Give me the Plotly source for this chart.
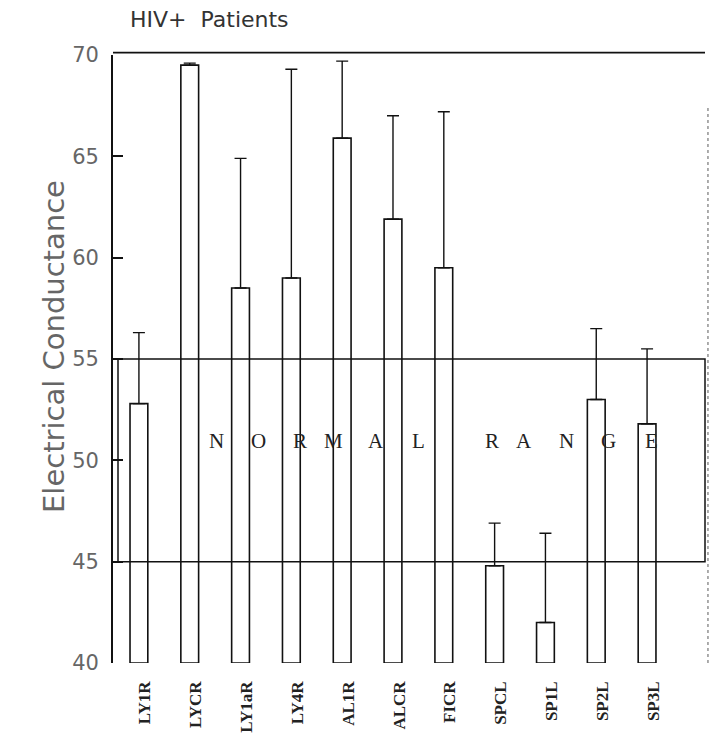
import plotly.graph_objects as go

# ---- data ----
categories = ["LY1R", "LYCR", "LY1aR", "LY4R", "AL1R", "ALCR", "FICR",
              "SPCL", "SP1L", "SP2L", "SP3L"]
means = [52.8, 69.5, 58.5, 59.0, 65.9, 61.9, 59.5, 44.8, 42.0, 53.0, 51.8]
upper = [56.3, 69.6, 64.9, 69.3, 69.7, 67.0, 67.2, 46.9, 46.4, 56.5, 55.5]
normal_low = 45
normal_high = 55
y_ticks = [40, 45, 50, 55, 60, 65, 70]
range_letters = ["N", "O", "R", "M", "A", "L", "R", "A", "N", "G", "E"]

W, H = 717, 744
PAGE_OFF = 0  # body margin removed via post_script
# plot edges in page pixels
PL, PR, PT, PB = 113, 705, 55, 663
L = PL - PAGE_OFF
T = PT - PAGE_OFF
R = W - (PR - PAGE_OFF)
B = H - (PB - PAGE_OFF)
pw = PR - PL
ph = PB - PT

def px_to_paper_x(px):
    return (px - PL) / pw

def px_to_paper_y(py):
    return (PB - py) / ph

x = list(range(len(categories)))
err_plus = [u - m for m, u in zip(means, upper)]

fig = go.Figure()
fig.add_trace(go.Bar(
    x=x, y=[m - 40 for m in means], base=40,
    width=0.35,
    marker=dict(color="rgba(0,0,0,0)", line=dict(color="#111", width=1.6)),
    error_y=dict(type="data", symmetric=False, array=err_plus,
                 arrayminus=[0] * len(means), color="#111",
                 thickness=1.4, width=6),
    showlegend=False,
))

# normal range box
fig.add_shape(type="rect", xref="paper", yref="y",
              x0=px_to_paper_x(118), x1=1.0, y0=normal_low, y1=normal_high,
              line=dict(color="#111", width=1.5), fillcolor="rgba(0,0,0,0)",
              layer="above")
# top frame line
fig.add_shape(type="line", xref="paper", yref="paper", x0=0, x1=1.0,
              y0=1.004, y1=1.004, line=dict(color="#111", width=1.8))
# faint dotted right line
fig.add_shape(type="line", xref="paper", yref="y", x0=1.005, x1=1.005,
              y0=40, y1=67.5, line=dict(color="#777", width=1.2, dash="dot"))

# NORMAL RANGE lettering
first_group = 6
for i, ch in enumerate(range_letters):
    if i < first_group:
        px = 207 + 42.2 * i
    else:
        px = 492 + 42.0 * (i - first_group)
    fig.add_annotation(x=px_to_paper_x(px), xref="paper", y=50.95, yref="y",
                       text=ch, showarrow=False,
                       font=dict(family="Liberation Serif", size=21, color="#222"))

# title
fig.add_annotation(x=px_to_paper_x(128), xref="paper", y=px_to_paper_y(20),
                   yref="paper", xanchor="left", yanchor="middle",
                   text="HIV+  Patients", showarrow=False,
                   font=dict(family="DejaVu Sans", size=22, color="#333"))
# y-axis title
fig.add_annotation(x=px_to_paper_x(35), xref="paper", y=px_to_paper_y(347),
                   yref="paper", textangle=-90, text="Electrical Conductance",
                   showarrow=False,
                   font=dict(family="DejaVu Sans", size=29, color="#666"))

fig.update_layout(
    width=W, height=H,
    margin=dict(l=L, r=R, t=T, b=B),
    paper_bgcolor="white", plot_bgcolor="white",
    xaxis=dict(range=[-0.51, 11.14], tickvals=x, ticktext=categories,
               tickangle=-90, showgrid=False, zeroline=False, showline=False,
               ticks="", ticklabelstandoff=14, ticklabelshift=6,
               tickfont=dict(family="Liberation Serif", size=17, color="#222",
                             weight="bold")),
    yaxis=dict(range=[40, 70], tickvals=y_ticks, showgrid=False,
               zeroline=False, showline=True, linecolor="#111", linewidth=1.8,
               ticks="inside", ticklen=10, tickwidth=1.5, tickcolor="#111",
               ticklabelstandoff=8,
               tickfont=dict(family="DejaVu Sans", size=21, color="#666")),
)

fig.write_html("out.html",
               config={"displayModeBar": False},
               post_script="document.body.style.margin='0';"
                           "document.body.style.overflow='hidden';")
